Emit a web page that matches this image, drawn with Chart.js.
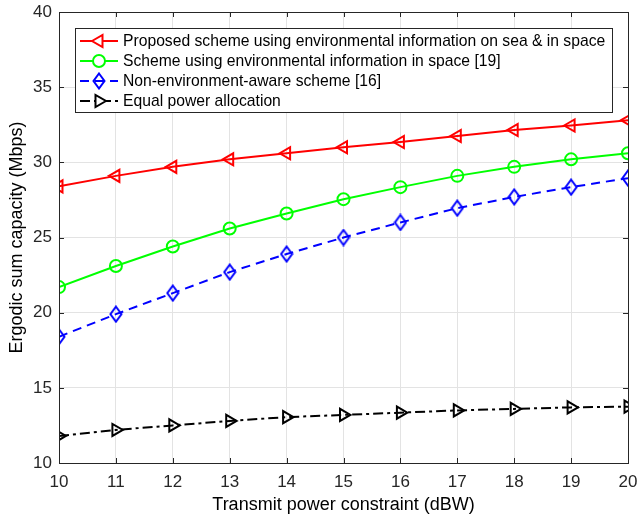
<!DOCTYPE html>
<html>
<head>
<meta charset="utf-8">
<script src="https://cdn.jsdelivr.net/npm/chart.js@4/dist/chart.umd.min.js"></script>
<style>
  html, body { margin:0; padding:0; background:#fff; }
  #wrap { width:639px; height:518px; }
</style>
</head>
<body>
<div id="wrap"><canvas id="c" width="639" height="518"></canvas></div>
<script>
// data
const power = [10, 11, 12, 13, 14, 15, 16, 17, 18, 19, 20];
const proposed = [28.4, 29.1, 29.7, 30.2, 30.6, 31.0, 31.35, 31.75, 32.15, 32.45, 32.8];
const spaceOnly = [21.7, 23.1, 24.4, 25.6, 26.6, 27.55, 28.35, 29.1, 29.7, 30.2, 30.6];
const nonAware = [18.4, 19.9, 21.3, 22.7, 23.9, 25.0, 26.0, 26.95, 27.7, 28.35, 28.95];
const equalPower = [11.8, 12.2, 12.5, 12.8, 13.05, 13.2, 13.35, 13.5, 13.6, 13.7, 13.75];
const labels = [
  'Proposed scheme using environmental information on sea & in space',
  'Scheme using environmental information in space [19]',
  'Non-environment-aware scheme [16]',
  'Equal power allocation'
];
const xTicks = power;
const yTicks = [10, 15, 20, 25, 30, 35, 40];

const FONT = 'Liberation Sans, Arial, Helvetica, sans-serif';

// tall matlab style diamond marker
const diamond = document.createElement('canvas');
diamond.width = 14; diamond.height = 18;
(function() {
  const g = diamond.getContext('2d');
  g.strokeStyle = '#0000ff';
  g.lineWidth = 2;
  g.beginPath();
  g.moveTo(7, 1.5); g.lineTo(12.5, 9); g.lineTo(7, 16.5); g.lineTo(1.5, 9); g.closePath();
  g.stroke();
})();

function pts(ys) {
  return power.map((x, i) => ({x: x, y: ys[i]}));
}

function ds(label, ys, color, style, rot, dash) {
  return {
    label: label,
    data: pts(ys),
    borderColor: color,
    borderWidth: 2,
    borderDash: dash,
    pointStyle: style,
    rotation: rot,
    pointRadius: style == 'circle' ? 6 : 7,
    pointBorderWidth: 2,
    pointBorderColor: color,
    pointBackgroundColor: 'rgba(0,0,0,0)',
    tension: 0
  };
}

// box, inward ticks and legend box like the matlab figure
const frame = {
  id: 'frame',
  afterDraw(chart) {
    const ctx = chart.ctx;
    const a = chart.chartArea;
    const xs = chart.scales.x, ys = chart.scales.y;
    ctx.save();
    ctx.strokeStyle = '#262626';
    ctx.lineWidth = 1;
    ctx.strokeRect(Math.round(a.left) + 0.5, Math.round(a.top) + 0.5,
                   Math.round(a.right - a.left), Math.round(a.bottom - a.top));
    ctx.beginPath();
    xTicks.forEach(v => {
      const px = Math.round(xs.getPixelForValue(v)) + 0.5;
      ctx.moveTo(px, a.bottom); ctx.lineTo(px, a.bottom - 5);
      ctx.moveTo(px, a.top); ctx.lineTo(px, a.top + 5);
    });
    yTicks.forEach(v => {
      const py = Math.round(ys.getPixelForValue(v)) + 0.5;
      ctx.moveTo(a.left, py); ctx.lineTo(a.left + 5, py);
      ctx.moveTo(a.right, py); ctx.lineTo(a.right - 5, py);
    });
    ctx.stroke();

    // legend
    const lx = 75, ly = 28, lw = 537, lh = 84;
    ctx.fillStyle = '#fff';
    ctx.fillRect(lx, ly, lw, lh);
    ctx.strokeStyle = '#262626';
    ctx.strokeRect(lx + 0.5, ly + 0.5, lw, lh);
    ctx.font = '15.7px ' + FONT;
    ctx.textBaseline = 'middle';
    chart.data.datasets.forEach((d, i) => {
      const y = ly + 13 + i * 20;
      ctx.strokeStyle = d.borderColor;
      ctx.lineWidth = 2;
      ctx.setLineDash(d.borderDash || []);
      ctx.beginPath();
      ctx.moveTo(80, y); ctx.lineTo(118, y);
      ctx.stroke();
      ctx.setLineDash([]);
      ctx.fillStyle = '#fff';
      Chart.helpers.drawPoint(ctx, {
        pointStyle: d.pointStyle, rotation: d.rotation,
        radius: d.pointRadius, borderWidth: 2
      }, 99, y);
      ctx.fillStyle = '#000';
      ctx.fillText(d.label, 123, y + 1);
    });
    ctx.restore();
  }
};

new Chart(document.getElementById('c'), {
  type: 'line',
  data: {
    datasets: [
      ds(labels[0], proposed, '#ff0000', 'triangle', -90, []),
      ds(labels[1], spaceOnly, '#00ff00', 'circle', 0, []),
      ds(labels[2], nonAware, '#0000ff', diamond, 0, [9, 6]),
      ds(labels[3], equalPower, '#000000', 'triangle', 90, [10, 4, 3, 4])
    ]
  },
  options: {
    responsive: false,
    animation: false,
    layout: { padding: { top: 12, right: 11, left: 0, bottom: 0 } },
    plugins: { legend: { display: false }, tooltip: { enabled: false } },
    scales: {
      x: {
        type: 'linear', min: 10, max: 20,
        afterBuildTicks(s) { s.ticks = xTicks.map(v => ({value: v})); },
        afterFit(s) { s.height = 55; s.paddingLeft = 0; s.paddingRight = 0; },
        grid: { color: '#e3e3e3', tickLength: 0, drawTicks: false },
        border: { display: false },
        ticks: { color: '#262626', font: { family: FONT, size: 17 }, padding: 9 },
        title: { display: true, text: 'Transmit power constraint (dBW)', color: '#000',
                 font: { family: FONT, size: 18 }, padding: { top: 0, bottom: 2 } }
      },
      y: {
        type: 'linear', min: 10, max: 40,
        afterBuildTicks(s) { s.ticks = yTicks.map(v => ({value: v})); },
        afterFit(s) { s.width = 59; s.paddingTop = 0; s.paddingBottom = 0; },
        grid: { color: '#e3e3e3', tickLength: 0, drawTicks: false },
        border: { display: false },
        ticks: { color: '#262626', font: { family: FONT, size: 17 }, padding: 7 },
        title: { display: true, text: 'Ergodic sum capacity (Mbps)', color: '#000',
                 font: { family: FONT, size: 18 }, padding: { top: 6, bottom: 0 } }
      }
    }
  },
  plugins: [frame]
});
</script>
</body>
</html>
